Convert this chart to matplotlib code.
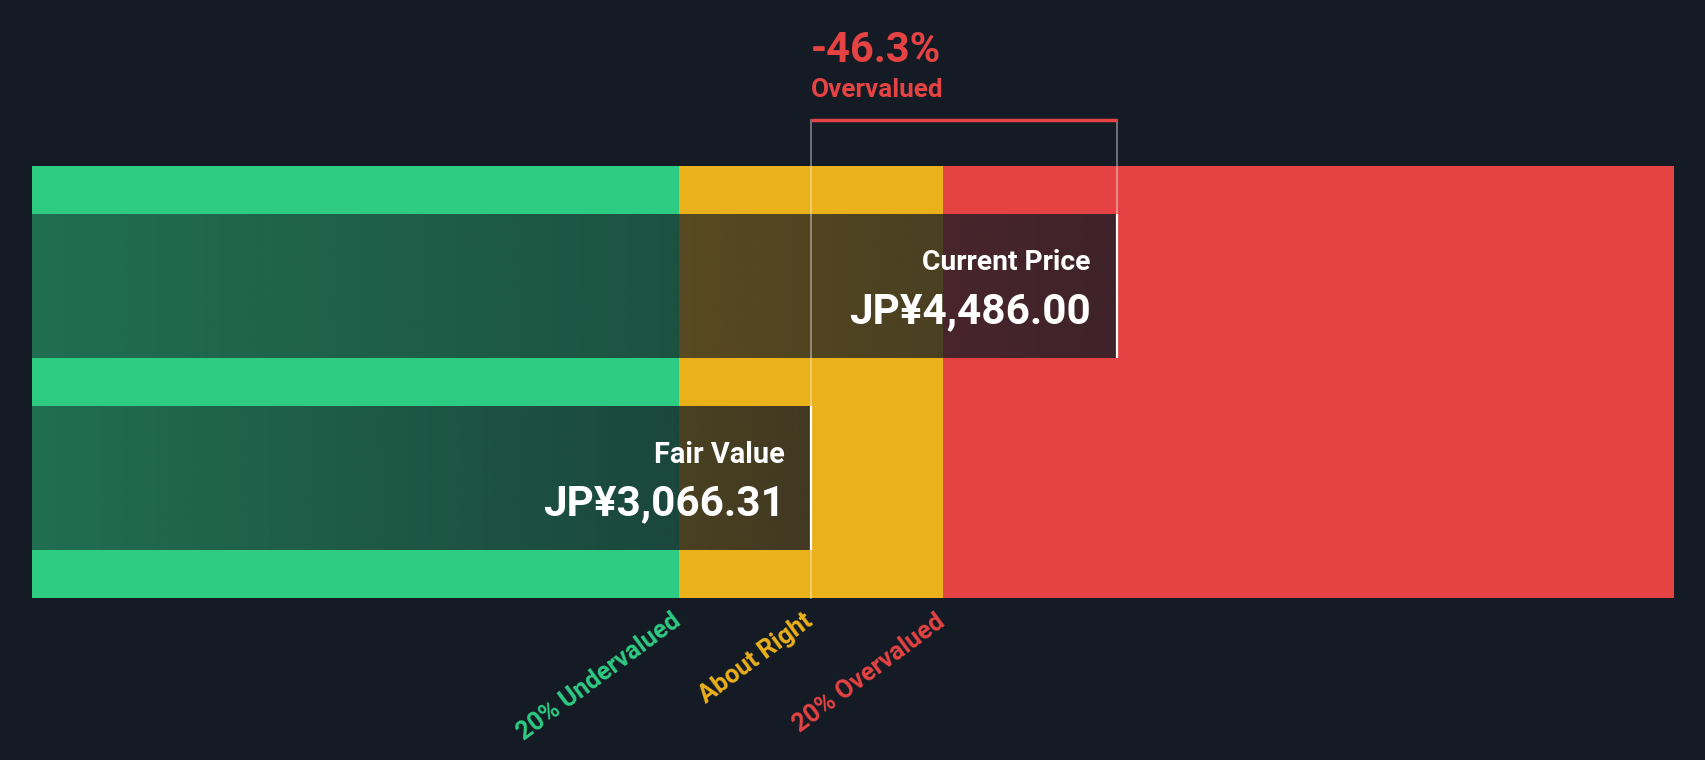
import matplotlib.pyplot as plt
import numpy as np

# Valuation data (JP¥)
fair_value = 3066.31
current_price = 4486.00
zone_low = 0.8 * fair_value     # 20% undervalued boundary
zone_high = 1.2 * fair_value    # 20% overvalued boundary
pct_diff = -46.3

zone_labels = ["20% Undervalued", "About Right", "20% Overvalued"]
zone_edges = [zone_low, fair_value, zone_high]

# Colours
bg = "#151b24"
green = "#2ecb83"
yellow = "#ebb11b"
red = "#e54343"
zone_colors = [green, yellow, red]

# Layout: band range of the value axis, in JP¥
x_lo, x_hi = -553, 7075
W, H = 1706, 760
px_left, px_right = 32, 1674

plt.rcParams['font.family'] = ['Roboto', 'DejaVu Sans']

fig = plt.figure(figsize=(W / 100, H / 100), dpi=100, facecolor=bg)
ax = fig.add_axes([px_left / W, 0, (px_right - px_left) / W, 1])
ax.set_facecolor(bg)
ax.axis("off")

scale = (px_right - px_left) / (x_hi - x_lo)  # px per yen

band_top, band_bot = 166, 598
cp_top, cp_bot = 214, 358
fv_top, fv_bot = 406, 550
bracket_y = 120

# Zone bands
ax.fill_between([x_lo, zone_low], band_top, band_bot, color=green, lw=0)
ax.fill_between([zone_low, zone_high], band_top, band_bot, color=yellow, lw=0)
ax.fill_between([zone_high, x_hi], band_top, band_bot, color=red, lw=0)

# Dark overlay bars with horizontal gradient
def overlay(x1, y0, y1):
    n = 256
    rgba = np.zeros((1, n, 4))
    rgba[..., 0] = 21 / 255
    rgba[..., 1] = 27 / 255
    rgba[..., 2] = 36 / 255
    rgba[..., 3] = np.linspace(0.53, 0.80, n)
    ax.imshow(rgba, extent=(x_lo, x1, y1, y0), aspect="auto",
              interpolation="bilinear", zorder=3)
    ax.plot([x1, x1], [y0, y1], color="white", lw=1.6, zorder=5,
            solid_capstyle="butt")

overlay(current_price, cp_top, cp_bot)
overlay(fair_value, fv_top, fv_bot)

# Guide lines and bracket
ax.plot([fair_value, fair_value], [bracket_y, band_bot], color="white",
        alpha=0.45, lw=1.2, zorder=4)
ax.plot([current_price, current_price], [bracket_y, cp_top], color="white",
        alpha=0.45, lw=1.2, zorder=4)
ax.plot([fair_value, current_price], [bracket_y, bracket_y], color=red,
        lw=2.5, zorder=6, solid_capstyle="butt")

ax.set_xlim(x_lo, x_hi)
ax.set_ylim(H, 0)

# Difference annotation
ax.text(fair_value, 51, f"{pct_diff:.1f}%", color=red, fontsize=30,
        fontweight="bold", ha="left", va="center", clip_on=False)
ax.text(fair_value, 90, "Overvalued", color=red, fontsize=18.8,
        fontweight="bold", ha="left", va="center", clip_on=False)

# Bar labels
pad = 26 / scale
ax.text(current_price - pad, 263, "Current Price", color="white",
        fontsize=20.3, fontweight="bold", ha="right", va="center", zorder=7)
ax.text(current_price - pad, 312, f"JP¥{current_price:,.2f}", color="white",
        fontsize=30.4, fontweight="bold", ha="right", va="center", zorder=7)
ax.text(fair_value - pad, 455, "Fair Value", color="white",
        fontsize=20.8, fontweight="bold", ha="right", va="center", zorder=7)
ax.text(fair_value - pad, 504, f"JP¥{fair_value:,.2f}", color="white",
        fontsize=30.4, fontweight="bold", ha="right", va="center", zorder=7)

# Zone labels under the band
label_shift = 8 / scale
for x, lab, c in zip(zone_edges, zone_labels, zone_colors):
    ax.text(x - label_shift, 609, lab, color=c, fontsize=18.2,
            fontweight="bold", rotation=36.5, rotation_mode="anchor",
            ha="right", va="top", clip_on=False)

fig.savefig("out.png", dpi=100, facecolor=bg)
